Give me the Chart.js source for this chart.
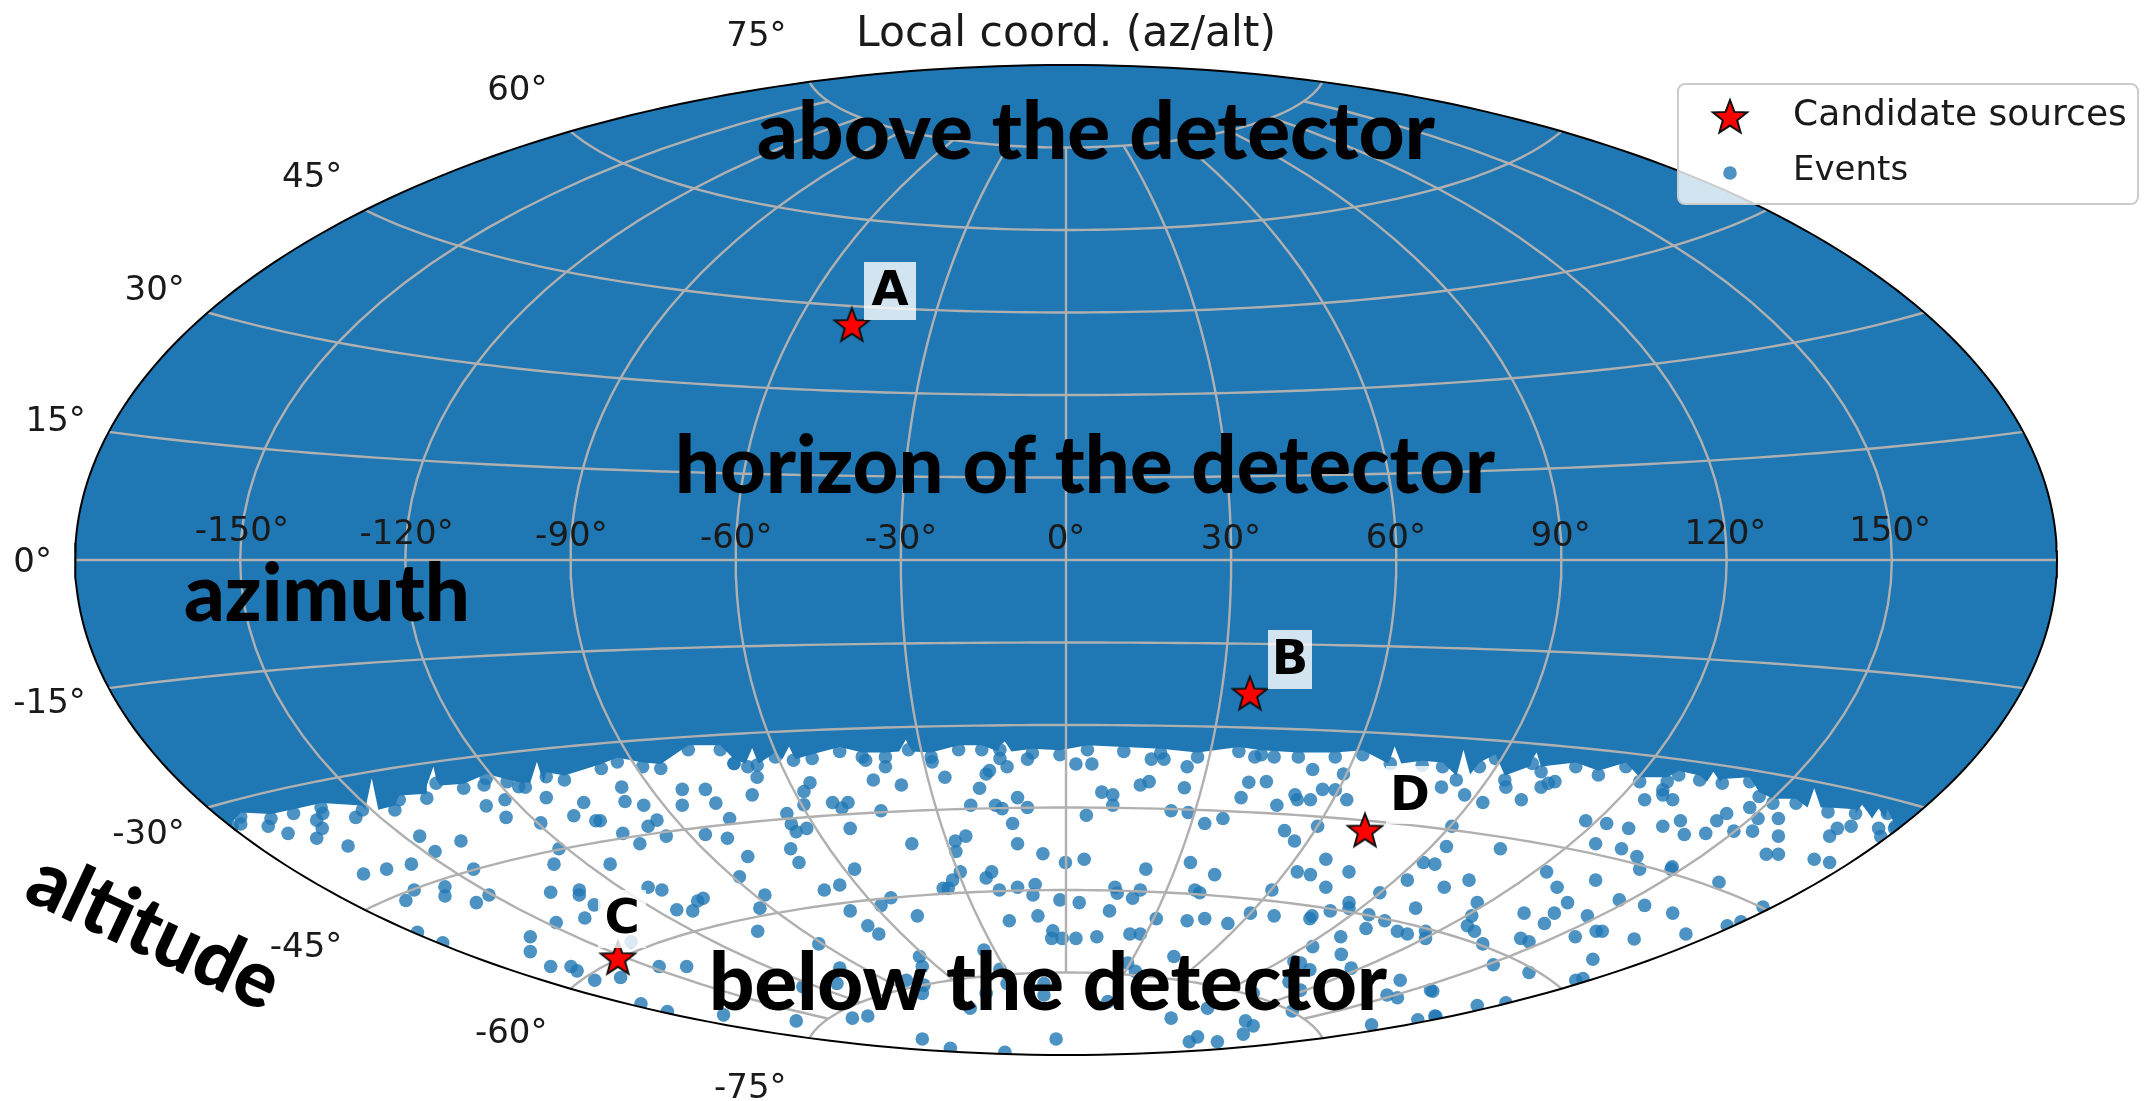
<!DOCTYPE html>
<html>
<head>
<meta charset="utf-8">
<title>Local coord. (az/alt)</title>
<script src="https://cdn.jsdelivr.net/npm/chart.js@4"></script>
<style>
  html, body { margin: 0; padding: 0; background: #fff; }
  canvas { display: block; filter: blur(0.6px); }
</style>
</head>
<body>
<canvas id="myChart" width="2149" height="1101"></canvas>
<script>
// values, in Aitoff plane degrees (x -180..180, y -90..90)
const eventX = [
  -149.9,-144.9,-141.3,-136.1,-135.1,-136.1,-135.0,-129.0,-130.4,-117.4,-109.9,-114.6,-118.9,-123.4,-127.6,-107.6,
  -105.7,-101.5,-98.2,-94.4,-101.9,-105.3,-101.7,-95.4,-87.6,-89.4,-85.4,-84.6,-80.7,-80.1,-76.7,-69.7,
  -65.5,-69.7,-63.6,-74.3,-75.9,-80.5,-77.4,-72.6,-65.5,-92.1,-93.0,-82.8,-118.4,-119.9,-112.8,-112.8,
  -107.1,-104.8,-93.6,-88.4,-88.4,-85.7,-87.4,-92.6,-75.9,-73.4,-70.7,-67.8,-66.9,-65.9,-117.8,-113.2,
  -97.3,-97.3,-93.6,-89.9,-88.8,-85.6,-80.9,-73.9,-68.9,-77.2,-72.4,-79.0,
  -60.3,-57.8,-56.1,-57.0,-61.1,-61.5,-50.7,-49.9,-49.0,-47.1,-46.5,-47.6,-47.6,-42.4,-40.7,-39.6,
  -33.6,-35.0,-29.9,-32.8,-36.4,-22.0,-24.3,-15.7,-14.5,-13.9,-10.7,-12.0,-7.0,-17.3,-12.8,-11.6,
  -8.8,-7.0,-9.7,-8.8,-4.2,1.8,4.7,6.5,8.5,8.5,3.7,13.5,15.1,15.5,17.8,22.0,
  21.5,19.1,22.2,25.2,28.5,31.8,33.2,36.4,34.3,37.8,44.8,50.4,41.6,42.0,44.4,38.3,
  46.6,48.9,51.0,45.7,39.7,41.5,-39.2,-28.0,-18.2,-20.1,-20.0,-50.0,-48.5,-57.8,-59.3,-38.4,
  -19.2,-13.5,-14.5,-20.6,-22.3,-21.4,-43.9,-41.1,-54.7,-55.6,-31.8,-33.6,-39.2,-27.0,-36.0,-34.0,
  -56.0,-44.9,-12.1,-8.8,-5.6,-6.0,-0.1,3.3,-1.1,2.4,7.9,-5.1,-10.3,-2.4,-2.6,-0.7,
  1.8,5.6,11.6,13.5,8.9,9.3,13.5,12.1,14.5,22.6,27.0,23.4,24.3,16.4,22.0,25.2,
  29.4,33.5,37.8,44.3,44.7,37.4,42.0,44.4,47.2,51.4,47.2,57.0,62.0,64.9,67.0,48.0,
  51.4,51.4,55.0,57.9,54.5,60.2,62.0,65.3,65.3,63.5,49.9,44.8,50.0,51.8,60.7,58.3,
  60.2,66.2,63.9,67.0,55.5,41.1,32.6,34.0,32.2,23.9,22.4,27.5,19.1,25.7,19.6,11.2,
  12.6,-14.9,-26.6,-26.1,-12.0,-29.0,-25.8,-41.1,-41.6,-47.8,-49.0,-62.2,-38.8,-36.0,-17.4,-14.5,
  -10.7,-4.0,-4.0,7.6,-26.1,-1.8,-21.0,-11.1,41.4,42.6,44.3,40.5,42.6,34.0,-26.1,
  68.2,72.4,75.7,82.7,79.9,86.3,87.6,88.8,94.4,98.2,102.2,105.1,108.4,108.4,110.2,108.4,
  111.6,112.3,116.2,118.2,120.0,121.3,124.7,125.7,124.2,129.4,129.4,127.2,129.4,135.9,138.7,138.7,
  140.1,142.6,147.6,148.0,150.7,70.1,69.1,78.9,96.2,100.9,103.7,104.2,110.1,109.9,68.7,73.2,
  87.3,89.2,96.2,118.6,74.7,73.7,72.9,74.2,75.7,83.2,88.7,91.1,86.9,94.7,100.5,105.1,
  110.2,126.6,120.1,122.6,112.6,103.2,96.3,97.4,92.5,82.6,84.1,95.7,77.6,84.1,92.6,93.9,
  66.6,74.7,79.9,67.2
];
const eventY = [
  -48.0,-48.4,-49.7,-50.6,-48.8,-47.3,-46.1,-46.8,-52.0,-50.2,-51.1,-53.0,-55.3,-56.2,-57.1,-56.2,
  -40.9,-40.3,-41.3,-43.2,-43.6,-44.7,-46.8,-47.8,-44.1,-46.5,-47.4,-47.4,-41.3,-43.9,-44.6,-41.7,
  -41.7,-44.6,-44.2,-47.3,-48.4,-49.7,-51.6,-50.2,-49.9,-52.5,-55.3,-55.3,-60.0,-61.9,-59.4,-61.1,
  -62.3,-60.9,-60.4,-60.0,-60.9,-62.7,-65.1,-65.9,-59.5,-60.0,-63.6,-63.8,-62.0,-61.5,-67.7,-69.6,
  -68.5,-71.2,-73.9,-73.9,-74.7,-76.4,-75.9,-73.9,-73.9,-80.7,-82.1,-69.4,
  -37.0,-37.6,-39.5,-42.7,-47.0,-50.6,-46.1,-48.0,-49.4,-48.8,-40.5,-42.1,-44.5,-44.1,-45.1,-44.1,
  -45.6,-40.0,-40.9,-37.6,-36.4,-39.5,-36.7,-41.5,-38.9,-38.3,-37.6,-36.1,-36.2,-44.6,-44.6,-45.2,
  -43.2,-45.0,-47.9,-51.6,-53.4,-37.1,-37.1,-42.2,-42.7,-44.6,-46.4,-40.9,-40.3,-36.2,-36.2,-37.6,
  -41.4,-45.6,-45.9,-47.9,-47.0,-43.2,-40.4,-40.3,-35.8,-35.8,-38.1,-38.9,-42.7,-43.6,-43.6,-44.6,
  -41.7,-41.8,-43.6,-48.4,-49.2,-51.1,-48.8,-51.6,-50.2,-51.1,-53.0,-52.5,-55.0,-53.9,-57.6,-56.2,
  -56.7,-56.7,-57.8,-58.2,-59.7,-59.7,-60.0,-59.1,-60.9,-63.3,-61.4,-62.8,-63.8,-64.7,-66.5,-68.0,
  -67.5,-69.8,-60.0,-59.5,-59.0,-60.9,-55.0,-54.4,-61.8,-62.3,-63.8,-64.7,-65.6,-67.4,-68.8,-68.8,
  -68.8,-68.5,-68.0,-68.0,-59.5,-60.6,-60.0,-61.5,-56.2,-55.0,-57.2,-60.0,-60.5,-65.2,-65.6,-65.2,
  -66.1,-64.2,-64.7,-65.2,-64.7,-60.0,-56.7,-57.2,-54.4,-56.7,-59.5,-60.5,-58.2,-55.0,-55.3,-63.8,
  -62.3,-63.3,-64.5,-65.6,-67.0,-67.5,-68.0,-67.5,-68.8,-63.3,-68.5,-70.3,-71.7,-74.2,-76.4,-79.1,
  -79.6,-78.2,-83.6,-82.9,-84.5,-82.0,-83.8,-84.7,-86.2,-86.7,-87.6,-87.6,-83.3,-81.5,-72.1,-73.3,
  -74.8,-70.9,-72.1,-73.9,-74.4,-76.4,-77.3,-74.2,-77.0,-77.6,-83.8,-82.7,-83.3,-82.9,-81.5,-78.8,
  -77.0,-77.0,-79.1,-80.3,-87.1,-87.1,-88.8,-89.5,-73.0,-73.3,-74.5,-76.7,-78.2,-78.8,-78.8,
  -41.3,-42.7,-44.1,-43.6,-41.3,-41.3,-40.6,-40.3,-47.4,-47.9,-48.8,-43.6,-41.8,-42.7,-43.6,-48.4,
  -47.4,-49.9,-49.7,-47.4,-46.1,-49.3,-49.3,-47.0,-45.0,-47.0,-50.2,-53.5,-53.5,-54.4,-55.0,-50.2,
  -48.8,-48.4,-48.8,-50.3,-48.4,-48.4,-52.1,-52.5,-51.6,-52.5,-53.9,-56.2,-55.8,-56.2,-59.5,-58.2,
  -56.7,-59.5,-58.2,-58.6,-62.3,-64.7,-66.5,-67.5,-69.8,-64.2,-64.2,-62.3,-66.1,-64.7,-61.8,-62.8,
  -64.2,-63.1,-66.5,-65.8,-68.0,-68.9,-67.5,-67.5,-68.5,-68.8,-69.4,-72.6,-73.6,-75.0,-76.4,-76.1,
  -78.4,-81.0,-80.5,-83.0
];
// lower edge of the solid mass of events around the horizon, left to right
const edgeX = [
  -151.5,-149.9,-144.4,-140.3,-135.3,-127.8,-121.9,-121.1,-116.1,-114.4,-109.4,-105.3,-99.4,-94.4,-91.1,-84.4,
  -81.5,-76.9,-73.6,-68.6,-62.8,-60.3,-56.1,-52.8,-49.5,-46.1,-41.1,-37.0,-32.8,-28.6,-24.5,-19.5,
  -15.3,-12.0,-6.1,-1.1,3.9,10.5,17.2,23.9,31.4,35.5,42.2,48.9,53.9,58.9,64.7,68.4,
  70.9,75.1,78.0,79.7,84.7,86.3,92.6,96.7,101.7,104.2,109.2,111.3,115.1,119.2,124.2,125.9,
  128.4,132.6,138.4,143.4,149.2,150.5
];
const edgeY = [
  -48.5,-46.7,-47.0,-46.1,-45.0,-45.45,-45.45,-43.6,-43.3,-40.6,-41.5,-39.7,-41.2,-39.4,-40.0,-37.9,
  -36.7,-37.6,-37.9,-34.5,-34.5,-37.0,-37.3,-35.8,-36.4,-36.1,-34.8,-35.8,-35.8,-34.5,-35.8,-34.5,
  -34.5,-34.5,-35.1,-35.4,-34.5,-34.8,-35.1,-35.8,-34.8,-35.4,-35.8,-35.8,-35.4,-37.0,-37.3,-37.6,
  -40.0,-37.6,-36.1,-40.0,-37.0,-38.5,-37.6,-39.1,-37.6,-40.3,-40.3,-39.1,-40.0,-40.6,-40.3,-43.0,
  -44.2,-44.2,-45.8,-46.1,-46.1,-48.8
];
// narrow white gaps cutting up into that edge
const notchX = [
  -127.3,-126.1,-124.9, -116.1,-114.9,-113.7, -97.3,-96.1,-94.9, -58.2,-57.0,-55.8, -51.5,-50.3,-49.1,
  -30.3,-29.1,-27.9, -12.3,-11.1,-9.9, 58.5,59.7,60.9, 71.0,72.2,73.4, 84.3,85.5,86.7,
  116.4,117.6,118.8, 134.7,135.9,137.1, 143.4,144.6,145.8, 146.4,147.6,148.8
];
const notchY = [
  -45.4,-39.7,-45.4, -41.0,-37.6,-41.0, -40.5,-36.7,-40.5, -37.0,-34.2,-37.0, -36.2,-33.9,-36.2,
  -34.8,-32.7,-34.8, -34.8,-33.0,-34.8, -37.0,-33.9,-37.0, -39.0,-34.5,-39.0, -37.5,-35.0,-37.5,
  -40.3,-38.5,-40.3, -45.0,-41.5,-45.0, -46.1,-44.5,-46.1, -47.0,-45.2,-47.0
];
const sourceNames = ["A", "B", "C", "D"];
const sourceX = [-38.9, 33.4, -81.4, 54.3];
const sourceY = [42.7, -24.3, -72.4, -49.2];
const azTicks = [-150, -120, -90, -60, -30, 0, 30, 60, 90, 120, 150];
const altTicks = [-75, -60, -45, -30, -15, 0, 15, 30, 45, 60, 75];
const seriesNames = ["Candidate sources", "Events"];

const BLUE = "#1f77b4";
const TEXT = "#1a1a1a";
const DEG = Math.PI / 180;
const EDGE_LIFT = 0.8; // dots at the edge poke out below the solid shape

// matplotlib's aitoff projection, returned in plane degrees
function aitoff(az, alt) {
  const lam = az * DEG, phi = alt * DEG;
  const a = Math.acos(Math.cos(phi) * Math.cos(lam / 2));
  const sinc = a === 0 ? 1 : Math.sin(a) / a;
  return {
    x: 2 * Math.cos(phi) * Math.sin(lam / 2) / sinc / DEG,
    y: Math.sin(phi) / sinc / DEG
  };
}

function meridian(az) {
  const pts = [];
  for (let alt = -75; alt <= 75; alt += 3) pts.push(aitoff(az, alt));
  return pts;
}
function parallel(alt) {
  const pts = [];
  for (let az = -180; az <= 180; az += 3) pts.push(aitoff(az, alt));
  return pts;
}
function rim(fromDeg, toDeg) {
  const pts = [], step = fromDeg < toDeg ? 1 : -1;
  for (let t = fromDeg; step > 0 ? t <= toDeg : t >= toDeg; t += step) {
    pts.push({ x: 180 * Math.cos(t * DEG), y: 90 * Math.sin(t * DEG) });
  }
  return pts;
}

function zip(xs, ys) {
  return xs.map((x, i) => ({ x: x, y: ys[i] }));
}

// filled five pointed star, used as the point image
function starImage(size) {
  const c = document.createElement("canvas");
  c.width = c.height = size + 6;
  const g = c.getContext("2d");
  const cx = c.width / 2, cy = c.height / 2 + 1, R = size / 2, r = R * 0.42;
  g.beginPath();
  for (let i = 0; i < 10; i++) {
    const rad = i % 2 ? r : R, ang = -Math.PI / 2 + i * Math.PI / 5;
    g.lineTo(cx + rad * Math.cos(ang), cy + rad * Math.sin(ang));
  }
  g.closePath();
  g.fillStyle = "#ff0000";
  g.fill();
  g.lineWidth = 2;
  g.strokeStyle = "#111";
  g.stroke();
  return c;
}
const star = starImage(36);

// everything above the edge is covered by events, so it is one solid shape
const lifted = edgeY.map(y => y + EDGE_LIFT);
const edgeLine = zip(edgeX, lifted).concat(zip(notchX, notchY)).sort((a, b) => a.x - b.x);

const datasets = [];
datasets.push({
  type: "line", label: "band", order: 40, clip: false,
  data: rim(212.7, 180).concat(rim(180, 0), rim(0, -33), edgeLine.reverse()),
  backgroundColor: BLUE, borderWidth: 0, pointRadius: 0, fill: "shape", tension: 0
});
datasets.push({
  label: seriesNames[1], order: 30, clip: false,
  data: zip(eventX, eventY).concat(zip(edgeX, edgeY)),
  backgroundColor: "rgba(31,119,180,0.8)", borderWidth: 0, pointRadius: 6.8
});
azTicks.forEach(az => datasets.push({
  type: "line", label: "grid", order: 20, clip: false, data: meridian(az),
  borderColor: "#b0b0b0", borderWidth: 2.4, pointRadius: 0, fill: false
}));
altTicks.forEach(alt => datasets.push({
  type: "line", label: "grid", order: 20, clip: false, data: parallel(alt),
  borderColor: "#b0b0b0", borderWidth: 2.4, pointRadius: 0, fill: false
}));
datasets.push({
  type: "line", label: "frame", order: 10, clip: false, data: rim(0, 360),
  borderColor: "#000", borderWidth: 2, pointRadius: 0, fill: false
});
datasets.push({
  label: seriesNames[0], order: 5, clip: false,
  data: zip(sourceX, sourceY),
  pointStyle: star, pointRadius: 18
});

function ellipsePath(ctx, area) {
  ctx.beginPath();
  ctx.ellipse((area.left + area.right) / 2, (area.top + area.bottom) / 2,
    (area.right - area.left) / 2, (area.bottom - area.top) / 2, 0, 0, Math.PI * 2);
}

const clipEvents = {
  id: "clipEvents",
  beforeDatasetDraw(chart, args) {
    if (chart.data.datasets[args.index].label !== seriesNames[1]) return;
    chart.ctx.save();
    ellipsePath(chart.ctx, chart.chartArea);
    chart.ctx.clip();
  },
  afterDatasetDraw(chart, args) {
    if (chart.data.datasets[args.index].label !== seriesNames[1]) return;
    chart.ctx.restore();
  }
};

const bigTexts = [
  { text: "above the detector", x: 1096, y: 133, w: 678 },
  { text: "horizon of the detector", x: 1085, y: 467, w: 820 },
  { text: "azimuth", x: 327, y: 595, w: 286 },
  { text: "below the detector", x: 1048, y: 984, w: 678 }
];
const labelBoxes = {
  A: { x: 864, y: 262, w: 52, h: 58, tx: 890, ty: 293 },
  B: { x: 1268, y: 630, w: 44, h: 59, tx: 1290, ty: 662 },
  C: { x: 598, y: 890, w: 48, h: 58, tx: 622, ty: 921 },
  D: { x: 1386, y: 766, w: 46, h: 58, tx: 1410, ty: 798 }
};

const overlay = {
  id: "overlay",
  afterDatasetsDraw(chart) {
    const ctx = chart.ctx, sx = chart.scales.x, sy = chart.scales.y;
    ctx.save();
    ctx.fillStyle = TEXT;
    ctx.textBaseline = "middle";

    // azimuth ticks, 4 degrees above the equator
    ctx.font = "34px 'DejaVu Sans'";
    ctx.textAlign = "center";
    azTicks.forEach(az => {
      const p = aitoff(az, 4);
      ctx.fillText(az + "°", sx.getPixelForValue(p.x), sy.getPixelForValue(p.y) + 2);
    });
    // altitude ticks hang off the rim, stretched 1.1x vertically like matplotlib
    ctx.textAlign = "right";
    altTicks.forEach(alt => {
      const p = aitoff(-180, alt);
      ctx.fillText(alt + "°", sx.getPixelForValue(p.x) - 23, sy.getPixelForValue(p.y * 1.1) + 3);
    });

    // point labels
    sourceNames.forEach(n => {
      const b = labelBoxes[n];
      ctx.fillStyle = "rgba(255,255,255,0.8)";
      ctx.fillRect(b.x, b.y, b.w, b.h);
      ctx.fillStyle = "#000";
      ctx.font = "bold 48px 'DejaVu Sans'";
      ctx.textAlign = "center";
      ctx.fillText(n, b.tx, b.ty);
    });

    // pasted annotations
    ctx.fillStyle = "#000";
    ctx.font = "900 80px Lato";
    ctx.textAlign = "center";
    bigTexts.forEach(t => ctx.fillText(t.text, t.x, t.y, t.w));
    ctx.save();
    ctx.translate(154, 932);
    ctx.rotate(25 * DEG);
    ctx.fillText("altitude", 0, 0, 268);
    ctx.restore();

    // legend
    ctx.beginPath();
    ctx.roundRect(1678, 84, 460, 120, 7);
    ctx.fillStyle = "rgba(255,255,255,0.8)";
    ctx.fill();
    ctx.strokeStyle = "#cccccc";
    ctx.lineWidth = 2;
    ctx.stroke();
    Chart.helpers.drawPoint(ctx, { pointStyle: star, radius: 18, rotation: 0, borderWidth: 0 }, 1730, 117);
    ctx.beginPath();
    ctx.arc(1730, 173, 6.8, 0, Math.PI * 2);
    ctx.fillStyle = "rgba(31,119,180,0.8)";
    ctx.fill();
    ctx.fillStyle = TEXT;
    ctx.textAlign = "left";
    ctx.font = "36px 'DejaVu Sans'";
    ctx.fillText(seriesNames[0], 1793, 116);
    ctx.font = "34px 'DejaVu Sans'";
    ctx.fillText(seriesNames[1], 1793, 171);
    ctx.restore();
  }
};

new Chart(document.getElementById("myChart"), {
  type: "scatter",
  data: { datasets: datasets },
  plugins: [clipEvents, overlay],
  options: {
    responsive: false,
    animation: false,
    layout: { padding: { left: 75, right: 92, top: 0, bottom: 46 } },
    scales: {
      x: { type: "linear", min: -180, max: 180, display: false },
      y: { type: "linear", min: -90, max: 90, display: false }
    },
    plugins: {
      legend: { display: false },
      tooltip: { enabled: false },
      title: {
        display: true,
        text: "Local coord. (az/alt)",
        color: TEXT,
        font: { family: "'DejaVu Sans'", size: 42.5, weight: "normal", lineHeight: 1.2 },
        padding: { top: 9, bottom: 5 }
      }
    }
  }
});
</script>
</body>
</html>
